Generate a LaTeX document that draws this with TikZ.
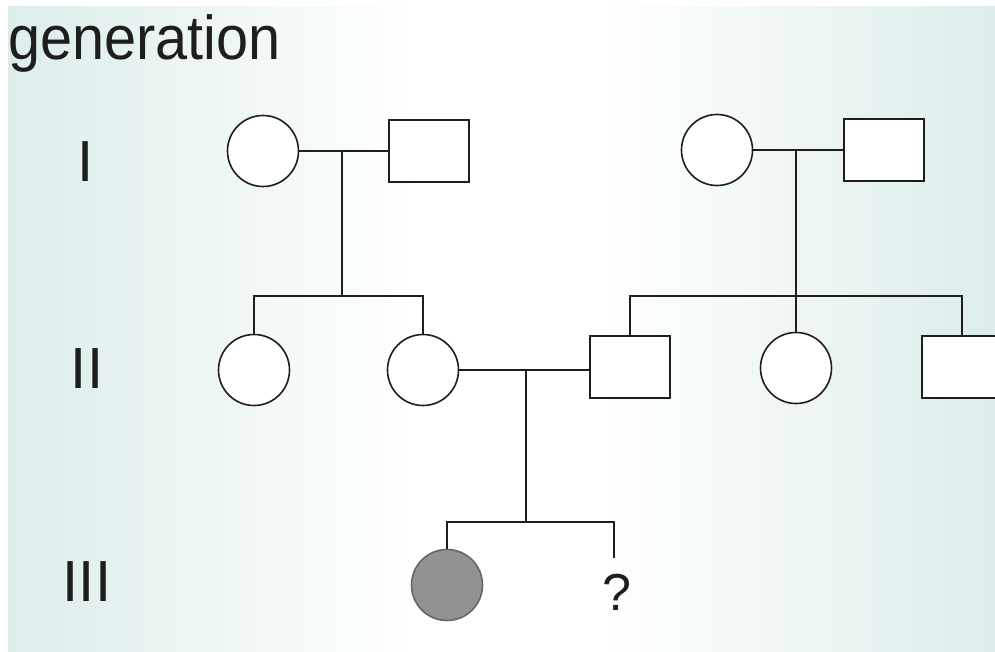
\documentclass[tikz,border=0pt]{standalone}
\usepackage{fontspec}
\setmainfont{Liberation Sans}
\definecolor{bgteal}{RGB}{220,237,235}
\definecolor{sick}{RGB}{146,146,149}
\definecolor{ink}{RGB}{30,30,30}
\tikzset{help lines/.style={very thin,color=gray!50}}
\tikzset{female/.style={circle,draw=ink,line width=1.6pt,fill=white,minimum size=71pt,inner sep=0pt}}
\tikzset{male/.style={rectangle,draw=ink,line width=1.8pt,fill=white,minimum width=80pt,minimum height=62pt,inner sep=0pt}}
\tikzset{affected/.style={female,fill=sick,draw=sick!70!black}}
\tikzset{link/.style={line width=2.2pt,color=ink}}
\tikzset{genlabel/.style={inner sep=0pt,text=ink,font=\fontsize{58}{58}\selectfont}}

\begin{document}
\begin{tikzpicture}[x=1pt,y=-1pt]
	\useasboundingbox (0,0) rectangle (995,652);
	\fill [white] (0,0) rectangle (995,652);
	\shade [left color=bgteal,right color=white] (8,7) rectangle (420,652);
	\shade [left color=white,right color=bgteal] (600,7) rectangle (995,652);
	\clip (0,0) rectangle (995,652);

%	\draw[help lines] (0,0) grid[step=50] (995,652); %grid
	\node [anchor=base west,inner sep=0pt,text=ink,xscale=0.93,transform shape,font=\fontsize{62}{62}\selectfont] (title) at (8,60) {generation};
	\node [genlabel] (gI) at (86,162) {I};
	\node [genlabel] (gII) at (87,369) {II};
	\node [genlabel] (gIII) at (87,582) {III};

	% generation I
	\node [female] (f1) at (263,151) {};
	\node [male] (m1) at (429,151) {};
	\node [female] (f2) at (717,150) {};
	\node [male] (m2) at (884,150) {};
	% generation II
	\node [female] (d1) at (254,370) {};
	\node [female] (d2) at (423,370) {};
	\node [male] (s1) at (630,367) {};
	\node [female] (d3) at (796,368) {};
	\node [male] (s2) at (962,367) {};
	% generation III
	\node [affected] (c1) at (447,585) {};
	\node [inner sep=0pt,text=ink,font=\fontsize{52}{52}\selectfont] (q) at (617,592) {?};

	% couples and their children
	\coordinate (u1) at (342,151);
	\coordinate (b1) at (342,296);
	\coordinate (u2) at (796,150);
	\coordinate (b2) at (796,296);
	\coordinate (u3) at (526,370);
	\coordinate (b3) at (526,522);
	\coordinate (qtop) at (614,558);

	\draw [link] (f1.east) -- (m1.west);
	\draw [link] (u1) -- (b1);
	\draw [link] (d1.north) -- (d1.north |- b1) -- (d2.north |- b1) -- (d2.north);

	\draw [link] (f2.east) -- (m2.west);
	\draw [link] (u2) -- (d3.north);
	\draw [link] (s1.north) -- (s1.north |- b2) -- (s2.north |- b2) -- (s2.north);

	\draw [link] (d2.east) -- (d2.east -| s1.west);
	\draw [link] (u3) -- (b3);
	\draw [link] (c1.north) -- (c1.north |- b3) -- (qtop |- b3) -- (qtop);

\end{tikzpicture}
\end{document}
